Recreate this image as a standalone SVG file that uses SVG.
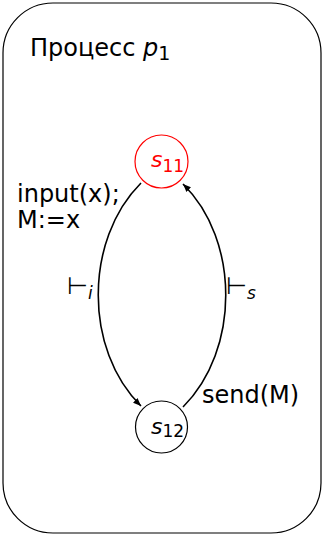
<svg xmlns="http://www.w3.org/2000/svg" width="322" height="534" viewBox="0 0 322 534">
<style>
text{font-family:"DejaVu Sans","Liberation Sans",sans-serif;fill:#000}
.lbl{font-size:24px}
.it{font-style:italic}
.sub{font-size:17px}
.edge{fill:none;stroke:#000;stroke-width:1.6}
</style>
<defs>
<marker id="ah" viewBox="0 0 10 10" refX="10" refY="5" markerWidth="8" markerHeight="8" markerUnits="userSpaceOnUse" orient="auto">
<path d="M0,1 L10,5 L0,9 z" fill="#000"/>
</marker>
</defs>
<g id="process">
<rect x="3" y="3" width="318" height="530" rx="50" ry="50" fill="#fff" stroke="#000" stroke-width="1.2"/>
<text x="30" y="56" style="font-size:24px">Процесс <tspan class="it">p</tspan><tspan class="sub" dy="4" style="font-size:19px">1</tspan></text>
</g>
<g id="connectors">
<path class="edge" d="M141,183 C84,240 84,350 141,406" marker-end="url(#ah)"/>
<path class="edge" d="M183,407 C240,350 240,240 183,184" marker-end="url(#ah)"/>
</g>
<g id="s11">
<circle cx="161.5" cy="161.5" r="26.5" fill="none" stroke="#f00" stroke-width="1.2"/>
<text x="151" y="167" style="font-size:22px;fill:#f00"><tspan class="it" style="fill:#f00">s</tspan><tspan class="sub" dy="5" style="fill:#f00">11</tspan></text>
</g>
<g id="s12">
<circle cx="161.5" cy="427" r="26" fill="none" stroke="#000" stroke-width="1.2"/>
<text x="151" y="434" style="font-size:22px"><tspan class="it">s</tspan><tspan class="sub" dy="3">12</tspan></text>
</g>
<g id="labels">
<text class="lbl" x="17" y="202">input(x);</text>
<text class="lbl" x="17" y="228">M:=x</text>
<text x="67" y="294" style="font-size:24px">⊢<tspan class="it sub" dy="5">i</tspan></text>
<text x="226" y="294" style="font-size:24px">⊢<tspan class="it sub" dy="5">s</tspan></text>
<text class="lbl" x="202" y="403">send(M)</text>
</g>
</svg>
